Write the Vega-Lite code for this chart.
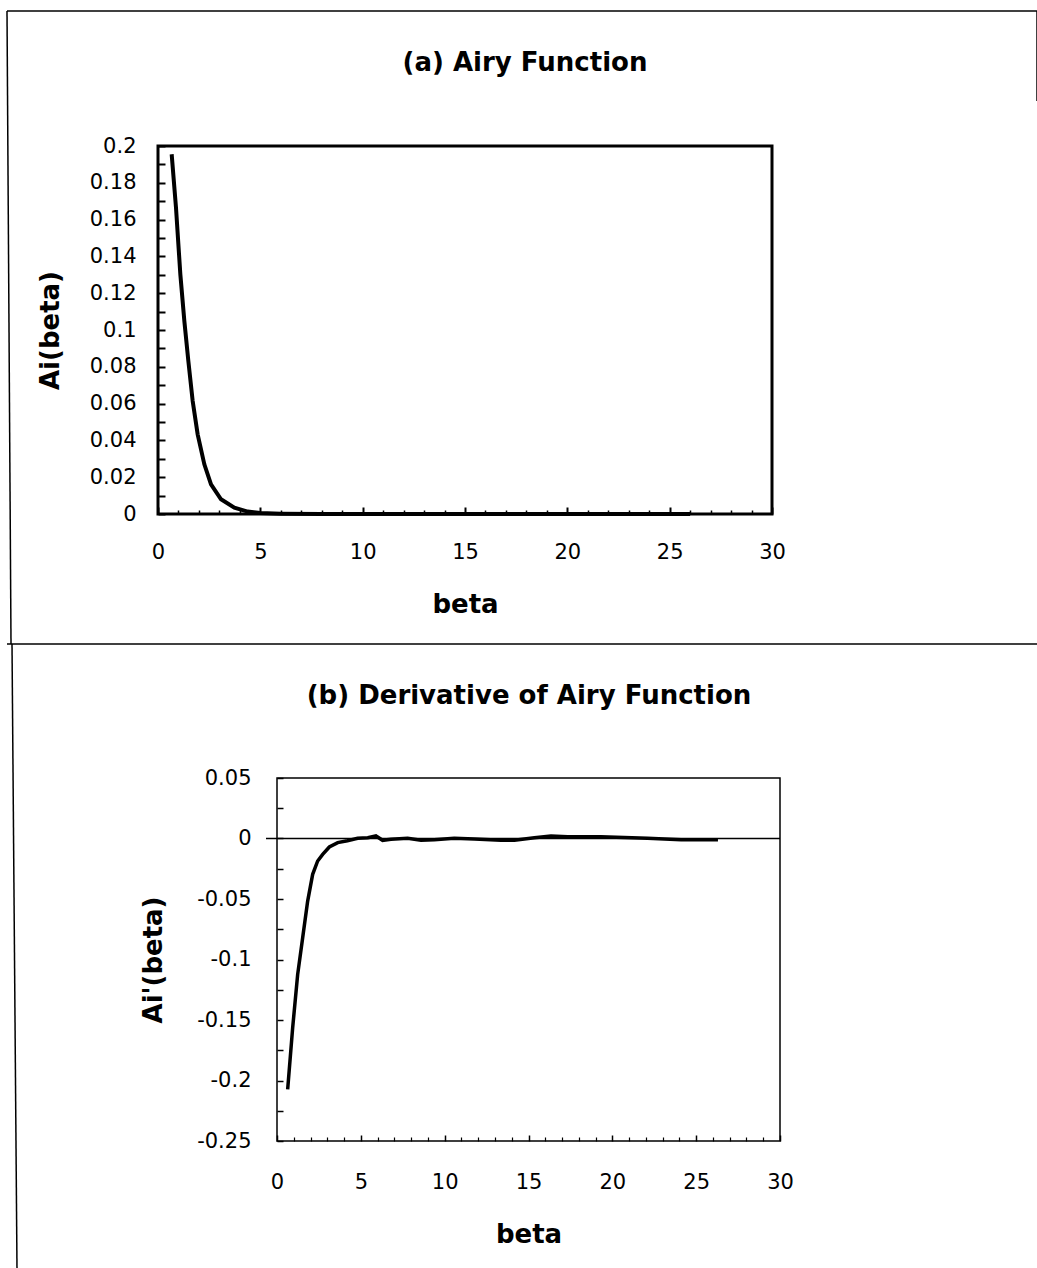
{
  "$schema": "https://vega.github.io/schema/vega-lite/v6.json",
  "padding": {"left": 5, "top": 10, "right": 0, "bottom": 0},
  "spacing": -3,
  "background": "white",
  "config": {
    "font": "DejaVu Sans",
    "view": {"stroke": null},
    "axis": {
      "labelFont": "DejaVu Sans", "labelFontSize": 21, "labelColor": "black",
      "titleFont": "DejaVu Sans", "titleFontSize": 26, "titleFontWeight": "bold", "titleColor": "black",
      "grid": false, "domain": false, "tickColor": "black", "tickWidth": 1.5,
      "labelFlush": false, "labelOverlap": false
    }
  },
  "datasets": {
    "airy": [
      {"beta": 0.668, "ai": 0.1955}, {"beta": 0.879, "ai": 0.1665}, {"beta": 1.091, "ai": 0.1303},
      {"beta": 1.287, "ai": 0.1049}, {"beta": 1.482, "ai": 0.0832}, {"beta": 1.694, "ai": 0.0614},
      {"beta": 1.938, "ai": 0.0433}, {"beta": 2.264, "ai": 0.027}, {"beta": 2.59, "ai": 0.0161},
      {"beta": 3.078, "ai": 0.008}, {"beta": 3.73, "ai": 0.0034}, {"beta": 4.381, "ai": 0.0013},
      {"beta": 5, "ai": 0.0005}, {"beta": 6, "ai": 0.0002}, {"beta": 8, "ai": 0},
      {"beta": 10, "ai": 0}, {"beta": 15, "ai": 0}, {"beta": 20, "ai": 0}, {"beta": 26, "ai": 0}
    ],
    "deriv": [
      {"beta": 0.636, "d": -0.2073}, {"beta": 0.935, "d": -0.1563}, {"beta": 1.233, "d": -0.1123},
      {"beta": 1.531, "d": -0.082}, {"beta": 1.829, "d": -0.0517}, {"beta": 2.127, "d": -0.0296},
      {"beta": 2.425, "d": -0.0186}, {"beta": 2.724, "d": -0.0131}, {"beta": 3.121, "d": -0.007},
      {"beta": 3.62, "d": -0.0034}, {"beta": 4.2, "d": -0.0018}, {"beta": 4.81, "d": 0.0002},
      {"beta": 5.41, "d": 0.0007}, {"beta": 5.9, "d": 0.0021}, {"beta": 6.3, "d": -0.0015},
      {"beta": 6.8, "d": -0.0007}, {"beta": 7.79, "d": 0.0002}, {"beta": 8.59, "d": -0.0015},
      {"beta": 9.38, "d": -0.001}, {"beta": 10.57, "d": 0.0002}, {"beta": 11.77, "d": -0.0004},
      {"beta": 13.36, "d": -0.0015}, {"beta": 14.16, "d": -0.0015}, {"beta": 15.35, "d": 0.0007},
      {"beta": 16.34, "d": 0.0021}, {"beta": 17.34, "d": 0.0015}, {"beta": 19.32, "d": 0.0015},
      {"beta": 22.1, "d": 0.0002}, {"beta": 24.1, "d": -0.001}, {"beta": 26.3, "d": -0.001}
    ]
  },
  "vconcat": [
    {
      "width": 495,
      "height": 368,
      "view": {"stroke": null},
      "resolve": {"axis": {"x": "independent", "y": "independent"}},
      "layer": [
        {
          "data": {"name": "airy"},
          "mark": {"type": "line", "color": "black", "strokeWidth": 4},
          "encoding": {
            "x": {"field": "beta", "type": "quantitative", "scale": {"domain": [0, 30], "range": [-119, 495], "nice": false, "zero": false},
              "axis": {"orient": "bottom", "values": [0, 5, 10, 15, 20, 25, 30], "tickSize": -7, "tickWidth": 2, "labelPadding": 34, "labelExpr": "'' + datum.value", "title": "beta", "titlePadding": 29}},
            "y": {"field": "ai", "type": "quantitative", "scale": {"domain": [0, 0.2], "nice": false},
              "axis": {"orient": "left", "offset": 119, "values": [0, 0.01, 0.02, 0.03, 0.04, 0.05, 0.06, 0.07, 0.08, 0.09, 0.1, 0.11, 0.12, 0.13, 0.14, 0.15, 0.16, 0.17, 0.18, 0.19, 0.2],
                "tickSize": -7, "tickWidth": 2, "labelPadding": 29,
                "labelExpr": "round(datum.value * 100) % 2 == 0 ? '' + datum.value : ''",
                "title": "Ai(beta)", "titlePadding": 26}}
          }
        },
        {
          "data": {"values": [{}]},
          "mark": {"type": "rect", "filled": false, "stroke": "black", "strokeWidth": 3},
          "encoding": {
            "x": {"datum": 0, "type": "quantitative", "axis": null},
            "x2": {"datum": 30},
            "y": {"datum": 0, "type": "quantitative", "axis": null},
            "y2": {"datum": 0.2}
          }
        },
        {
          "data": {"values": [{}]},
          "mark": {"type": "rule", "color": "black", "strokeWidth": 1.5},
          "encoding": {
            "x": {"datum": -7.378, "type": "quantitative",
              "axis": {"orient": "bottom", "values": [1, 2, 3, 4, 6, 7, 8, 9, 11, 12, 13, 14, 16, 17, 18, 19, 21, 22, 23, 24, 26, 27, 28, 29], "tickSize": -4, "labels": false, "title": null}},
            "x2": {"datum": 42.997},
            "y": {"datum": 0.27337, "type": "quantitative", "axis": null}
          }
        },
        {
          "data": {"values": [{}]},
          "mark": {"type": "rule", "color": "black", "strokeWidth": 1.5},
          "encoding": {
            "x": {"datum": -7.378, "type": "quantitative", "axis": null},
            "x2": {"datum": -7.182},
            "y": {"datum": 0.27337, "type": "quantitative", "axis": null},
            "y2": {"datum": -0.070652}
          }
        },
        {
          "data": {"values": [{}]},
          "mark": {"type": "rule", "color": "black", "strokeWidth": 1.5},
          "encoding": {
            "x": {"datum": 42.948, "type": "quantitative", "axis": null},
            "y": {"datum": 0.27337, "type": "quantitative", "axis": null},
            "y2": {"datum": 0.22446}
          }
        },
        {
          "data": {"values": [{}]},
          "mark": {"type": "text", "text": "(a) Airy Function", "fontSize": 26, "fontWeight": "bold", "font": "DejaVu Sans", "align": "center", "baseline": "middle", "color": "black"},
          "encoding": {
            "x": {"datum": 17.932, "type": "quantitative", "axis": null},
            "y": {"datum": 0.24511, "type": "quantitative", "axis": null}
          }
        }
      ]
    },
    {
      "width": 503,
      "height": 363,
      "view": {"stroke": "black", "strokeWidth": 1.5},
      "resolve": {"axis": {"x": "independent", "y": "independent"}},
      "layer": [
        {
          "data": {"values": [{}]},
          "mark": {"type": "rule", "color": "black", "strokeWidth": 1.5},
          "encoding": {
            "x": {"datum": -0.656, "type": "quantitative",
              "axis": {"orient": "bottom", "values": [1, 2, 3, 4, 6, 7, 8, 9, 11, 12, 13, 14, 16, 17, 18, 19, 21, 22, 23, 24, 26, 27, 28, 29], "tickSize": -4, "tickWidth": 1.2, "labels": false, "title": null}},
            "x2": {"datum": 30},
            "y": {"datum": 0, "type": "quantitative", "axis": null}
          }
        },
        {
          "data": {"name": "deriv"},
          "mark": {"type": "line", "color": "black", "strokeWidth": 3.5},
          "encoding": {
            "x": {"field": "beta", "type": "quantitative", "scale": {"domain": [0, 30], "nice": false, "zero": false},
              "axis": {"orient": "bottom", "values": [0, 5, 10, 15, 20, 25, 30], "tickSize": -6, "tickWidth": 1.5, "labelPadding": 36, "labelExpr": "'' + datum.value", "title": "beta", "titlePadding": 29}},
            "y": {"field": "d", "type": "quantitative", "scale": {"domain": [-0.25, 0.05], "nice": false, "zero": false},
              "axis": {"orient": "left", "values": [-0.25, -0.225, -0.2, -0.175, -0.15, -0.125, -0.1, -0.075, -0.05, -0.025, 0, 0.025, 0.05],
                "tickSize": -6, "tickWidth": 1.5, "labelPadding": 32,
                "labelExpr": "round(datum.value * 1000) % 50 == 0 ? '' + datum.value : ''",
                "title": "Ai'(beta)", "titlePadding": 30}}
          }
        },
        {
          "data": {"values": [{}]},
          "mark": {"type": "rule", "color": "black", "strokeWidth": 1.5},
          "encoding": {
            "x": {"datum": -16.103, "type": "quantitative", "axis": null},
            "x2": {"datum": 45.388},
            "y": {"datum": 0.16074, "type": "quantitative", "axis": null}
          }
        },
        {
          "data": {"values": [{}]},
          "mark": {"type": "rule", "color": "black", "strokeWidth": 1.5},
          "encoding": {
            "x": {"datum": -15.805, "type": "quantitative", "axis": null},
            "x2": {"datum": -15.507},
            "y": {"datum": 0.16074, "type": "quantitative", "axis": null},
            "y2": {"datum": -0.35579}
          }
        },
        {
          "data": {"values": [{}]},
          "mark": {"type": "text", "text": "(b) Derivative of Airy Function", "fontSize": 26, "fontWeight": "bold", "font": "DejaVu Sans", "align": "center", "baseline": "middle", "color": "black"},
          "encoding": {
            "x": {"datum": 15.03, "type": "quantitative", "axis": null},
            "y": {"datum": 0.11777, "type": "quantitative", "axis": null}
          }
        }
      ]
    }
  ]
}
